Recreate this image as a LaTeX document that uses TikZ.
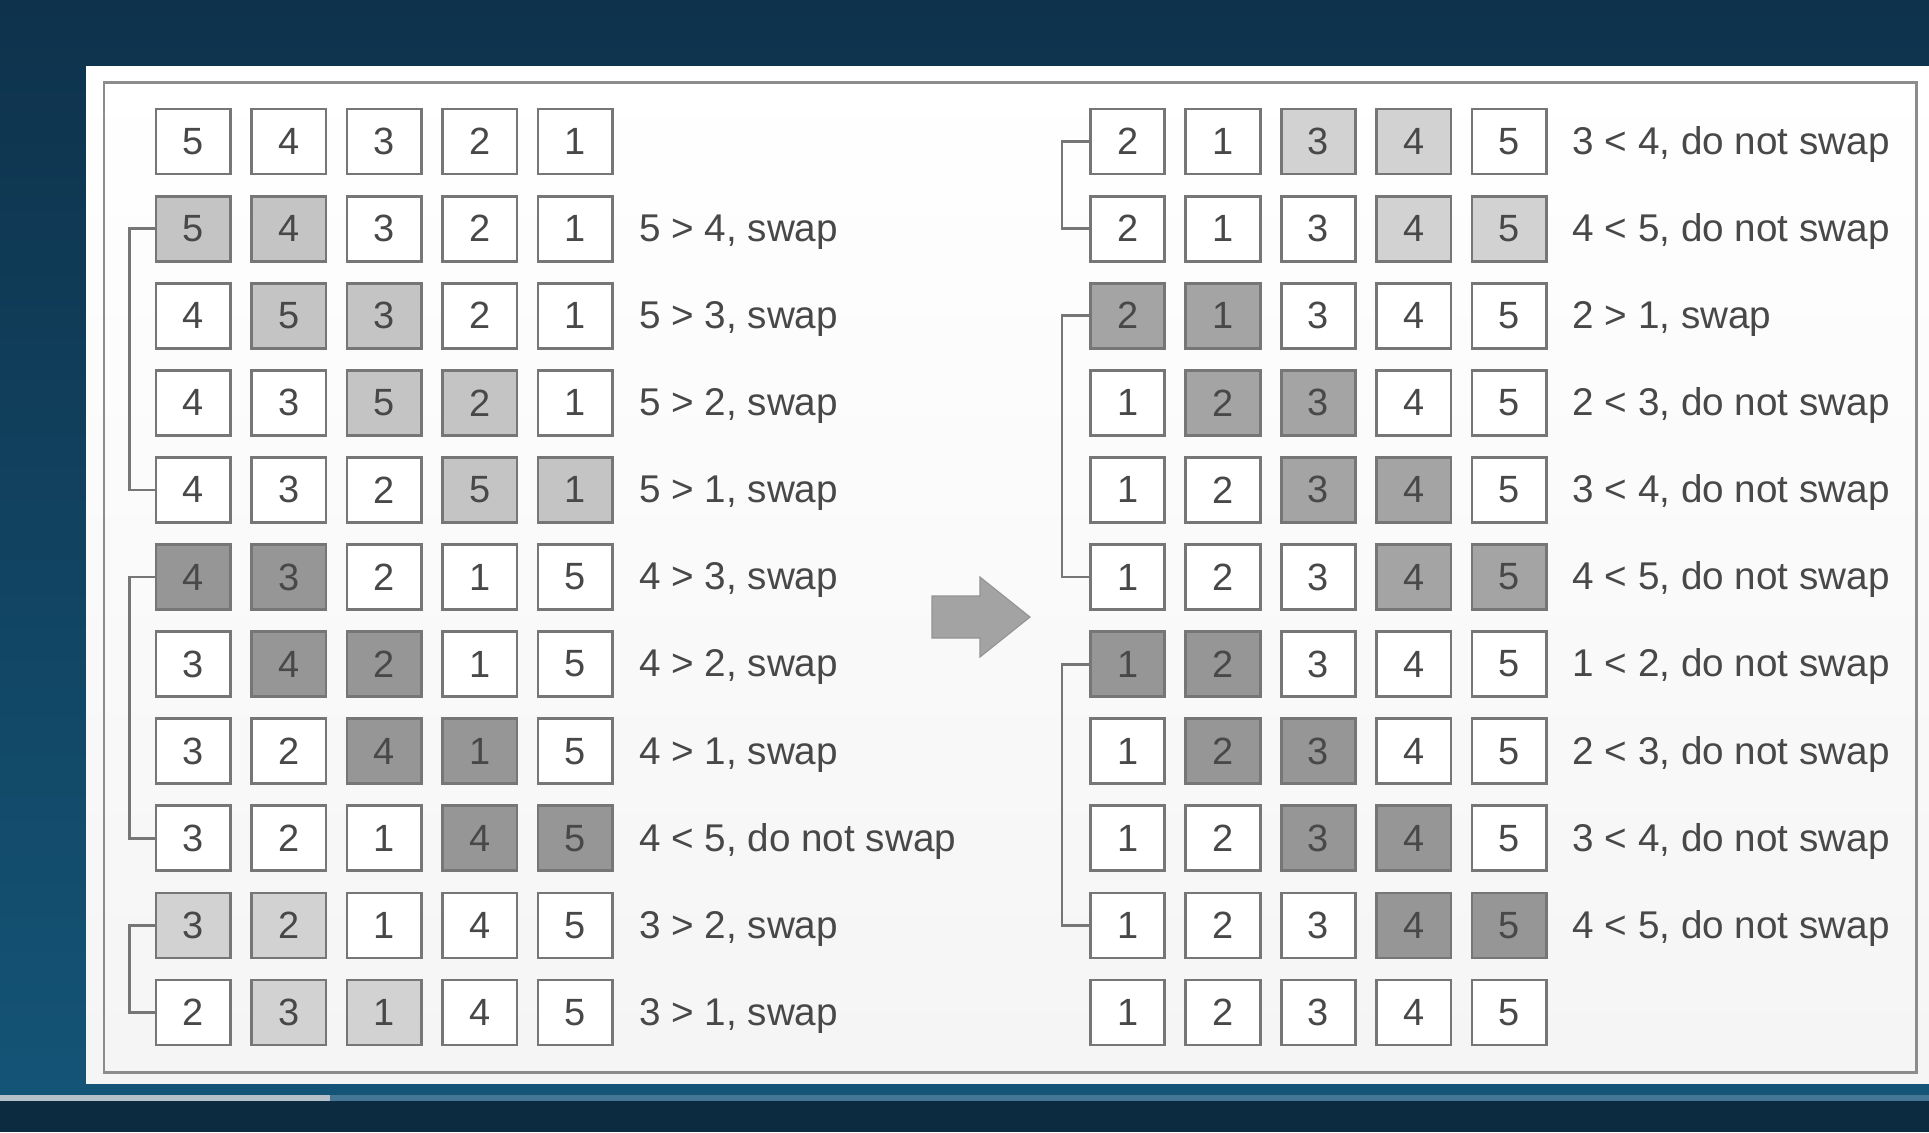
\documentclass[tikz,border=0pt]{standalone}
\usepackage{fontspec}
\setmainfont{Liberation Sans}
\usepackage{xcolor}
\usetikzlibrary{positioning, calc}
\definecolor{bgtop}{RGB}{14,50,76}
\definecolor{bgbot}{RGB}{20,84,118}
\definecolor{bgfoot}{RGB}{12,42,64}
\definecolor{barlite}{RGB}{182,192,200}
\definecolor{bardark}{RGB}{70,118,150}
\definecolor{frameline}{RGB}{140,140,140}
\definecolor{boxline}{RGB}{118,118,118}
\definecolor{txtgray}{RGB}{72,72,72}
\definecolor{cellPale}{RGB}{210,210,210}
\definecolor{cellLite}{RGB}{196,196,196}
\definecolor{cellMid}{RGB}{164,164,164}
\definecolor{cellDark}{RGB}{150,150,150}
\definecolor{arrowgray}{RGB}{163,163,163}

\begin{document}
\begin{tikzpicture}[x=0.1mm, y=-0.1mm,
    cell/.style={draw=boxline, line width=0.8pt, minimum width=7.45mm, minimum height=6.5mm,
                 inner sep=0pt, text=txtgray, font=\fontsize{10.8pt}{12pt}\selectfont},
    lbl/.style={inner sep=0pt, text=txtgray, font=\fontsize{11pt}{13pt}\selectfont},
    brk/.style={draw=boxline, line width=0.8pt}]
                % Background
                \useasboundingbox (0,0) rectangle (1929,1132);
                \shade[top color=bgtop, bottom color=bgbot] (0,0) rectangle (1929,1095);
                \fill[bgfoot] (0,1101) rectangle (1929,1132);
                \fill[bardark] (0,1095) rectangle (1929,1101);
                \fill[barlite] (0,1095) rectangle (330,1101);
                
                % Panel and frame
                \shade[top color=white, bottom color=gray!8] (86,66) rectangle (1929,1083);
                \draw[frameline, line width=0.85pt] (104,82) rectangle (1916,1072);
                
                % Left half: passes one to three
                \foreach \r/\vals/\hc/\sh/\txt in {
                    0/{5,4,3,2,1}/9/cellLite/{},
                    1/{5,4,3,2,1}/0/cellLite/{5 > 4, swap},
                    2/{4,5,3,2,1}/1/cellLite/{5 > 3, swap},
                    3/{4,3,5,2,1}/2/cellLite/{5 > 2, swap},
                    4/{4,3,2,5,1}/3/cellLite/{5 > 1, swap},
                    5/{4,3,2,1,5}/0/cellDark/{4 > 3, swap},
                    6/{3,4,2,1,5}/1/cellDark/{4 > 2, swap},
                    7/{3,2,4,1,5}/2/cellDark/{4 > 1, swap},
                    8/{3,2,1,4,5}/3/cellDark/{4 < 5, do not swap},
                    9/{3,2,1,4,5}/0/cellPale/{3 > 2, swap},
                    10/{2,3,1,4,5}/1/cellPale/{3 > 1, swap}}{
                    \foreach \v [count=\c from 0] in \vals {
                        \pgfmathtruncatemacro\on{(\c==\hc)||(\c==\hc+1)}
                        \ifnum\on=1 \edef\fc{\sh}\else\def\fc{white}\fi
                        \node[cell, fill=\fc] (L-\r-\c) at ({193.3+95.5*\c},{141.5+87.1*\r}) {\v};
                    }
                    \node[lbl, base right=2.45mm of L-\r-4] (L-\r-t) {\txt};
                }
                
                % Right half: passes four and five
                \foreach \r/\vals/\hc/\sh/\txt in {
                    0/{2,1,3,4,5}/2/cellPale/{3 < 4, do not swap},
                    1/{2,1,3,4,5}/3/cellPale/{4 < 5, do not swap},
                    2/{2,1,3,4,5}/0/cellMid/{2 > 1, swap},
                    3/{1,2,3,4,5}/1/cellMid/{2 < 3, do not swap},
                    4/{1,2,3,4,5}/2/cellMid/{3 < 4, do not swap},
                    5/{1,2,3,4,5}/3/cellMid/{4 < 5, do not swap},
                    6/{1,2,3,4,5}/0/cellDark/{1 < 2, do not swap},
                    7/{1,2,3,4,5}/1/cellDark/{2 < 3, do not swap},
                    8/{1,2,3,4,5}/2/cellDark/{3 < 4, do not swap},
                    9/{1,2,3,4,5}/3/cellDark/{4 < 5, do not swap},
                    10/{1,2,3,4,5}/9/cellLite/{}}{
                    \foreach \v [count=\c from 0] in \vals {
                        \pgfmathtruncatemacro\on{(\c==\hc)||(\c==\hc+1)}
                        \ifnum\on=1 \edef\fc{\sh}\else\def\fc{white}\fi
                        \node[cell, fill=\fc] (R-\r-\c) at ({1127.6+95.4*\c},{141.5+87.1*\r}) {\v};
                    }
                    \node[lbl, base right=2.4mm of R-\r-4] (R-\r-t) {\txt};
                }
                
                % Brackets for each pass
                \draw[brk] (L-1-0.west) -- ++(-25,0) |- (L-4-0.west);
                \draw[brk] (L-5-0.west) -- ++(-25,0) |- (L-8-0.west);
                \draw[brk] (L-9-0.west) -- ++(-25,0) |- (L-10-0.west);
                \draw[brk] (R-0-0.west) -- ++(-27,0) |- (R-1-0.west);
                \draw[brk] (R-2-0.west) -- ++(-27,0) |- (R-5-0.west);
                \draw[brk] (R-6-0.west) -- ++(-27,0) |- (R-9-0.west);
                
                % Arrow between halves
                \filldraw[fill=arrowgray, draw=arrowgray!90!black, line width=0.3pt]
                    (932,596) -- (980,596) -- (980,577) -- (1030,617) -- (980,657)
                    -- (980,638) -- (932,638) -- cycle;
\end{tikzpicture}
\end{document}
